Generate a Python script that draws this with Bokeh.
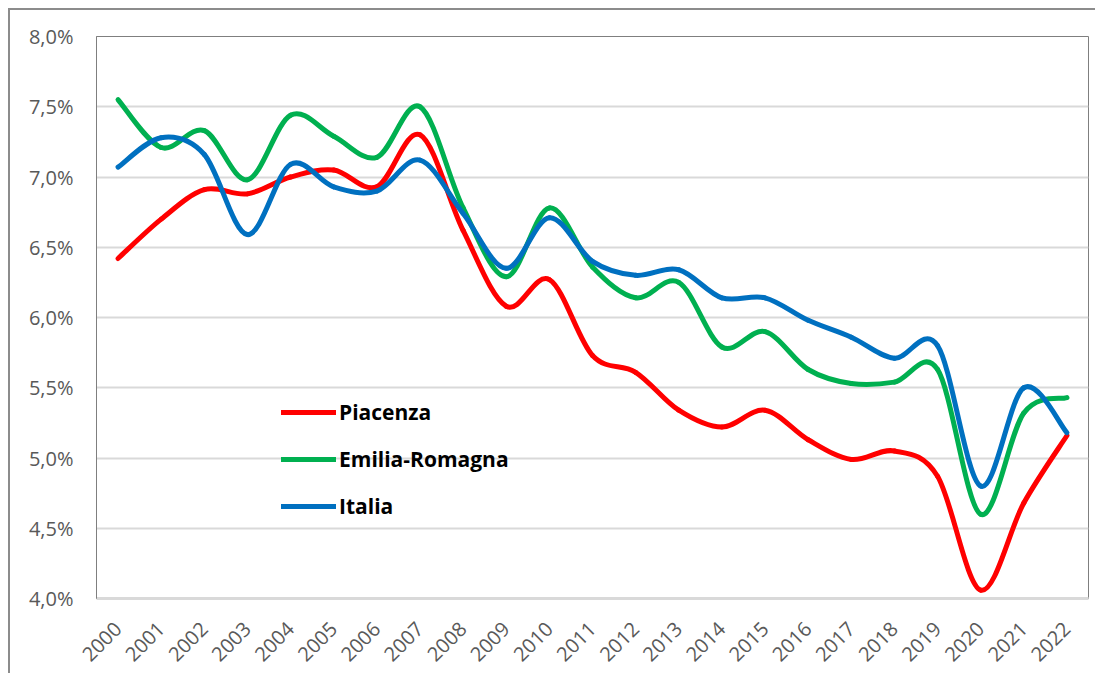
from bokeh.plotting import figure
from bokeh.models import FixedTicker, Legend, LegendItem, ColumnDataSource, Range1d
from bokeh.embed import file_html
from bokeh.resources import INLINE
import math

years = list(range(2000, 2023))
year_labels = [str(y) for y in years]

piacenza = [6.42, 6.70, 6.91, 6.88, 7.00, 7.05, 6.93, 7.30, 6.62, 6.08, 6.27, 5.73, 5.61,
            5.34, 5.22, 5.34, 5.13, 4.99, 5.05, 4.87, 4.06, 4.68, 5.16]
emilia = [7.55, 7.21, 7.33, 6.98, 7.44, 7.29, 7.14, 7.50, 6.78, 6.29, 6.78, 6.36, 6.14,
          6.25, 5.79, 5.90, 5.63, 5.53, 5.54, 5.63, 4.60, 5.32, 5.43]
italia = [7.07, 7.28, 7.16, 6.59, 7.09, 6.93, 6.90, 7.12, 6.74, 6.35, 6.71, 6.40, 6.30,
          6.34, 6.14, 6.14, 5.98, 5.86, 5.71, 5.80, 4.80, 5.50, 5.18]

series_names = ["Piacenza", "Emilia-Romagna", "Italia"]
series_colors = ["#FF0000", "#00B050", "#0070C0"]

y_ticks = [4.0, 4.5, 5.0, 5.5, 6.0, 6.5, 7.0, 7.5, 8.0]
y_tick_labels = ["4,0%", "4,5%", "5,0%", "5,5%", "6,0%", "6,5%", "7,0%", "7,5%", "8,0%"]

p = figure(width=1087, height=665, output_backend="svg", toolbar_location=None,
           x_range=Range1d(1999.5, 2022.5), y_range=Range1d(4.0, 8.0),
           min_border_left=86, min_border_top=26, min_border_right=9, min_border_bottom=77)
p.styles = {"border-top": "2px solid #8c8c8c", "border-left": "2px solid #8c8c8c",
            "margin-top": "8px", "margin-left": "8px"}

p.background_fill_color = "white"
p.border_fill_color = "white"
p.outline_line_color = "#7f7f7f"
p.outline_line_width = 1

p.xgrid.visible = False
p.ygrid.grid_line_color = "#d9d9d9"
p.ygrid.grid_line_width = 2

p.yaxis.ticker = FixedTicker(ticks=y_ticks)
p.yaxis.major_label_overrides = {t: l for t, l in zip(y_ticks, y_tick_labels)}
p.yaxis.major_tick_line_color = None
p.yaxis.minor_tick_line_color = None
p.yaxis.axis_line_color = "#7f7f7f"
p.yaxis.major_label_standoff = 17
p.yaxis.major_label_text_font = "Open Sans"
p.yaxis.major_label_text_font_size = "20px"
p.yaxis.major_label_text_color = "#595959"

p.xaxis.ticker = FixedTicker(ticks=years)
p.xaxis.major_label_overrides = {y: l for y, l in zip(years, year_labels)}
p.xaxis.major_tick_line_color = None
p.xaxis.minor_tick_line_color = None
p.xaxis.axis_line_color = "#d9d9d9"
p.xaxis.axis_line_width = 3
p.xaxis.major_label_orientation = math.pi / 4
p.xaxis.major_label_standoff = 21
p.xaxis.major_label_text_font = "Open Sans"
p.xaxis.major_label_text_font_size = "20px"
p.xaxis.major_label_text_color = "#595959"


def smooth_segments(xs, ys):
    n = len(xs)
    seg = dict(x0=[], y0=[], x1=[], y1=[], cx0=[], cy0=[], cx1=[], cy1=[])
    for i in range(n - 1):
        xp = xs[i - 1] if i > 0 else xs[i]
        yp = ys[i - 1] if i > 0 else ys[i]
        xn = xs[i + 2] if i + 2 < n else xs[i + 1]
        yn = ys[i + 2] if i + 2 < n else ys[i + 1]
        seg["x0"].append(xs[i]); seg["y0"].append(ys[i])
        seg["x1"].append(xs[i + 1]); seg["y1"].append(ys[i + 1])
        seg["cx0"].append(xs[i] + (xs[i + 1] - xp) / 6.0)
        seg["cy0"].append(ys[i] + (ys[i + 1] - yp) / 6.0)
        seg["cx1"].append(xs[i + 1] - (xn - xs[i]) / 6.0)
        seg["cy1"].append(ys[i + 1] - (yn - ys[i]) / 6.0)
    return ColumnDataSource(seg)


items = []
for name, vals, col in zip(series_names, [piacenza, emilia, italia], series_colors):
    src = smooth_segments(years, vals)
    r = p.bezier(x0="x0", y0="y0", x1="x1", y1="y1", cx0="cx0", cy0="cy0", cx1="cx1", cy1="cy1",
                 source=src, line_color=col, line_width=5, line_cap="round")
    items.append(LegendItem(label=name, renderers=[r], index=0))

legend = Legend(items=items, location=(185, 78), padding=0, margin=0,
                background_fill_alpha=0, border_line_color=None,
                glyph_width=55, glyph_height=20, label_height=20, spacing=19,
                label_standoff=3, label_text_font="Open Sans",
                label_text_font_style="bold", label_text_font_size="21px",
                label_text_color="black")
p.add_layout(legend, "center")

open("out.html", "w").write(file_html(p, INLINE))
